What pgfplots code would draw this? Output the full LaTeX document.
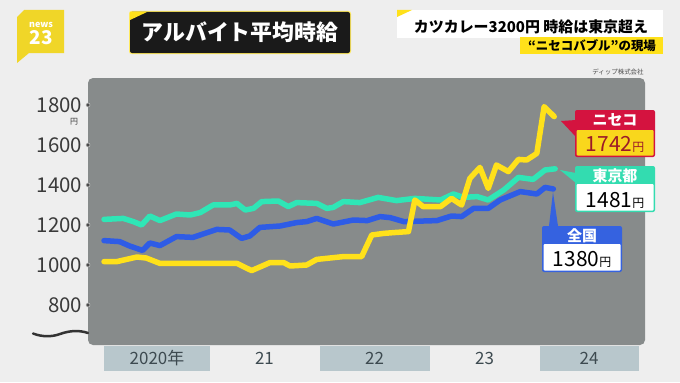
\documentclass[border=0pt]{standalone}
\usepackage{pgfplots}
\pgfplotsset{compat=1.18}
\usepackage{fontspec}
\setmainfont{Noto Sans CJK JP}
\definecolor{bgc}{HTML}{EEEEEE}
\definecolor{plotgrey}{HTML}{878B8B}
\definecolor{bandc}{HTML}{B8C7CC}
\definecolor{tealc}{HTML}{2FE6B6}
\definecolor{bluec}{HTML}{2E5CE6}
\definecolor{yellowc}{HTML}{FFE11A}
\definecolor{nisekored}{HTML}{D4133F}
\definecolor{nisekoyel}{HTML}{F9D71C}
\definecolor{nisekotext}{HTML}{9C1A28}
\definecolor{tokyohead}{HTML}{33DCB0}
\definecolor{zenhead}{HTML}{3562E0}
\definecolor{tickc}{HTML}{3A3A3A}
\definecolor{yearc}{HTML}{3D4A50}
\definecolor{logoy}{HTML}{F0D628}
\definecolor{titleblack}{HTML}{1A1A1A}
\definecolor{wavec}{HTML}{333333}

\pgfplotstableread{
m v
0 1228
2.1 1233
3.2 1217
4.1 1200
5.0 1245
6.1 1222
7.9 1255
9.4 1250
10.5 1262
11.9 1300
13.7 1300
14.5 1308
15.4 1275
16.3 1283
17.2 1317
19.0 1320
20.1 1292
21.0 1312
23.2 1308
24.3 1283
25.0 1288
26.1 1317
27.9 1312
29.9 1338
31.9 1322
33.9 1333
36.7 1325
38.1 1355
39.2 1338
40.7 1342
41.9 1325
43.6 1375
45.2 1438
46.8 1428
48.1 1475
49.2 1481
}\tokyo

\pgfplotstableread{
m v
0 1122
1.7 1117
2.8 1095
4.2 1073
5.0 1110
6.1 1097
7.9 1142
9.7 1138
10.8 1155
12.3 1178
13.7 1175
15.0 1133
15.9 1145
17.0 1188
19.2 1195
21.0 1212
22.1 1217
23.2 1233
25.0 1205
27.2 1225
28.7 1222
30.1 1242
31.2 1237
32.7 1217
36.3 1222
37.9 1245
39.0 1242
40.3 1283
41.9 1283
43.2 1325
45.4 1367
47.2 1355
48.1 1388
49.0 1380
}\zenkoku

\pgfplotstableread{
m v
0 1017
1.4 1017
3.6 1040
4.6 1035
6.1 1008
9.4 1008
14.5 1008
16.1 972
18.1 1012
19.6 1012
20.3 995
22.1 1000
23.2 1028
26.1 1042
28.1 1042
29.2 1150
30.5 1158
31.6 1162
33.2 1167
33.9 1325
34.8 1292
36.7 1292
37.9 1333
39.0 1300
39.9 1433
41.0 1488
41.9 1383
42.8 1500
44.1 1467
45.2 1528
46.1 1525
47.2 1558
48.0 1792
49.1 1742
}\niseko

\begin{document}
\begin{tikzpicture}
\begin{scope}[x=1bp,y=1bp]
\path[use as bounding box, fill=bgc] (0,0) rectangle (680,382);

% logo
\fill[logoy] (24,372) -- (64,372) -- (64,329) -- (29,329) -- (17,319) -- (17,365) -- cycle;
\node[text=white, font=\bfseries\fontsize{9}{9}\selectfont, inner sep=0] at (41,357) {news};
\node[text=white, font=\bfseries\fontsize{19}{19}\selectfont, inner sep=0] at (41,344) {23};

% title box
\fill[yellowc!70!white, rounded corners=2.5bp] (129,328) rectangle (351,371);
\fill[titleblack, rounded corners=2bp] (130,329) rectangle (350,370);
\fill[yellowc] (130,370) -- (147,370) -- (130,362) -- cycle;
\node[text=white, font=\bfseries\fontsize{22}{22}\selectfont, inner sep=0] at (240,350) {アルバイト平均時給};

% right header
\fill[white] (397,344) rectangle (663,372);
\fill[yellowc] (397,372) -- (412,372) -- (397,365) -- cycle;
\node[text=black, font=\bfseries\fontsize{15}{15}\selectfont, inner sep=0] at (531,355) {カツカレー3200円 時給は東京超え};
\fill[yellowc] (520,328) rectangle (663,345);
\node[text=black, font=\bfseries\fontsize{12.5}{12.5}\selectfont, inner sep=0] at (592,336.5) {“ニセコバブル”の現場};
\node[text=black!70, font=\fontsize{6.5}{6.5}\selectfont, inner sep=0] at (618,310) {ディップ株式会社};

% plot area
\fill[plotgrey, rounded corners=5bp] (88,37) rectangle (645,304);
\fill[bandc] (104,11) rectangle (210,36);
\fill[bandc] (319.5,11) rectangle (430,36);
\fill[bandc] (540,11) rectangle (639,36);

% axis break wave
\draw[line width=2.5bp, wavec, line cap=round] (33,48.5) .. controls (42,45) and (52,45) .. (60,48) .. controls (70,51.5) and (79,52) .. (88,49);
\node[text=tickc, font=\fontsize{8}{8}\selectfont, inner sep=0] at (74,260) {円};
\end{scope}

\begin{axis}[
  at={(88bp,37bp)}, anchor=south west,
  scale only axis, width=557bp, height=267bp,
  xmin=-1.745, xmax=59, ymin=600, ymax=1935,
  clip=false,
  axis line style={draw=none},
  major tick length=0pt,
  ytick={800,1000,1200,1400,1600,1800},
  xtick={5.78,17.5,29.5,41.5,52.9},
  xticklabels={2020年,21,22,23,24},
  /pgf/number format/assume math mode=true,
  /pgf/number format/1000 sep={},
  yticklabel style={anchor=east, inner sep=0pt, xshift=-5.5bp, font=\fontsize{20.5}{20.5}\selectfont, text=tickc},
  xticklabel style={anchor=center, inner sep=0pt, yshift=-13.5bp, font=\fontsize{17}{17}\selectfont, text=yearc},
]
\addplot[tealc, line width=5.5bp, line join=round, line cap=round] table[x=m, y=v] {\tokyo};
\addplot[bluec, line width=5.5bp, line join=round, line cap=round] table[x=m, y=v] {\zenkoku};
\addplot[yellowc, line width=5.5bp, line join=round, line cap=round] table[x=m, y=v] {\niseko};
\addplot[only marks, mark=*, mark size=2bp, mark options={fill=black!70, draw=white!80!black, line width=0.5bp}]
  coordinates {(-1.745,800) (-1.745,1000) (-1.745,1200) (-1.745,1400) (-1.745,1600) (-1.745,1800)};
\end{axis}

\begin{scope}[x=1bp,y=1bp]
% Niseko label
\fill[nisekored] (576,262) -- (561,261) -- (576,245) -- cycle;
\fill[nisekored, rounded corners=2bp] (575,225) rectangle (655,272);
\fill[nisekoyel, rounded corners=1bp] (576.5,226.5) rectangle (653.5,252);
\node[text=white, font=\bfseries\fontsize{15}{15}\selectfont, inner sep=0] at (615,262) {ニセコ};
\node[text=nisekotext, font=\fontsize{21}{21}\selectfont, inner sep=0, anchor=base] at (615,231) {1742{\fontsize{12}{12}\selectfont 円}};

% Tokyo label
\fill[tokyohead] (576,209) -- (560,212) -- (576,199) -- cycle;
\fill[tokyohead, rounded corners=2bp] (575,170) rectangle (655,216);
\fill[white, rounded corners=1bp] (576.5,171.5) rectangle (653.5,198);
\node[text=white, font=\bfseries\fontsize{15}{15}\selectfont, inner sep=0] at (615,206.5) {東京都};
\node[text=black, font=\fontsize{21}{21}\selectfont, inner sep=0, anchor=base] at (615,175) {1481{\fontsize{12}{12}\selectfont 円}};

% Zenkoku label
\fill[zenhead] (553,190) -- (549,156) -- (558,156) -- cycle;
\fill[zenhead, rounded corners=2bp] (542,110) rectangle (622,156);
\fill[white, rounded corners=1bp] (543.5,111.5) rectangle (620.5,138);
\node[text=white, font=\bfseries\fontsize{15}{15}\selectfont, inner sep=0] at (582,146.5) {全国};
\node[text=black, font=\fontsize{21}{21}\selectfont, inner sep=0, anchor=base] at (582,116) {1380{\fontsize{12}{12}\selectfont 円}};
\end{scope}
\end{tikzpicture}
\end{document}
